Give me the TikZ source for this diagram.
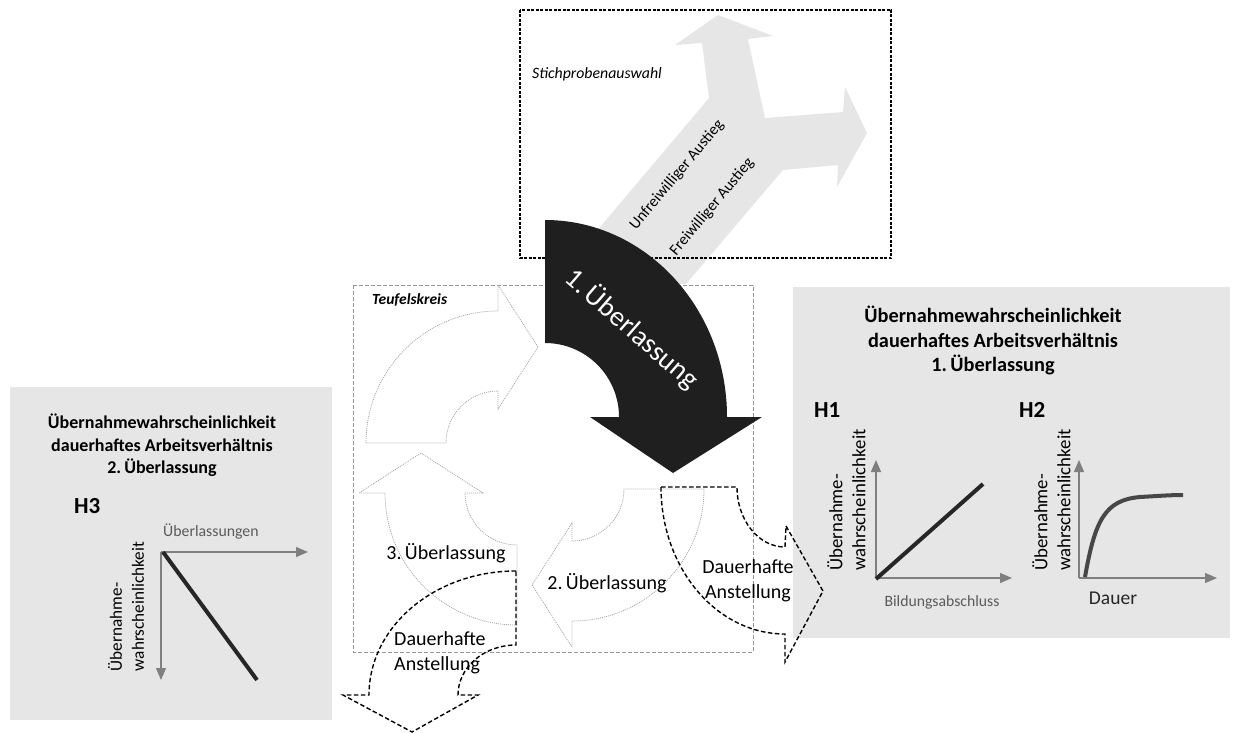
\documentclass[tikz,border=0pt]{standalone}
\usepackage{fontspec}
\setmainfont{Carlito}
\usetikzlibrary{arrows.meta,calc}
\definecolor{boxgray}{HTML}{E6E6E6}
\definecolor{arrowgray}{HTML}{E6E6E6}
\definecolor{blackarrow}{HTML}{1F1F1F}
\definecolor{cycgray}{HTML}{A6A6A6}
\definecolor{framegray}{HTML}{959595}
\definecolor{axisgray}{HTML}{7F7F7F}
\definecolor{labelgray}{HTML}{595959}
\definecolor{hline}{HTML}{262626}
\newcommand\cycarrow[2]{%
  \draw[cyc] ($(#1)+(#2:132)$) arc[start angle=#2, end angle=#2-90, radius=132]
    -- ($(#1)+(#2-90:158)$) -- ($(#1)+(#2-90:96)+(#2-180:40)$) -- ($(#1)+(#2-90:34)$)
    -- ($(#1)+(#2-90:52)$) arc[start angle=#2-90, end angle=#2, radius=52] -- cycle;}
\tikzset{
  graybox/.style={fill=boxgray, draw=none},
  cyc/.style={draw=cycgray, line width=0.8pt, dash pattern=on 1pt off 1pt},
  dasharrow/.style={draw=black, line width=1.4pt, dash pattern=on 4.5pt off 2.5pt},
  axis/.style={draw=axisgray, line width=1.3pt, -{Triangle[length=12pt,width=10pt]}},
  hthick/.style={draw=hline, line width=4pt},
  title/.style 2 args={align=center, inner sep=0, font=\bfseries\fontsize{#1}{#2}\selectfont},
  ylab/.style 2 args={rotate=90, align=left, inner sep=0, font=\fontsize{#1}{#2}\selectfont},
  hlab/.style={anchor=west, inner sep=0, font=\bfseries\fontsize{23}{23}\selectfont},
  cyclab/.style={inner sep=0, font=\fontsize{20}{25}\selectfont},
}
\begin{document}
\begin{tikzpicture}[x=1pt,y=1pt]
\useasboundingbox (0,0) rectangle (1234,-733);
% gray boxes
\fill[graybox] (10,-387) rectangle (332,-720);
\fill[graybox] (793,-287) rectangle (1230,-638);
% gray Y arrow
\fill[arrowgray] (686,-284) -- (552,-284) -- (709,-98) -- (702,-43) -- (675,-45) -- (718,-15)
  -- (773,-36) -- (748,-39) -- (765,-118) -- (843,-112) -- (845,-87) -- (867,-133)
  -- (837,-187) -- (838,-165) -- (783,-170) -- cycle;
\node[rotate=50.2, inner sep=0, font=\fontsize{15.8}{18}\selectfont] (unfrei) at (677,-175) {Unfreiwilliger Austieg};
\node[rotate=50.2, inner sep=0, font=\fontsize{15.8}{18}\selectfont] (frei) at (712,-207) {Freiwilliger Austieg};
% frames
\draw[black, line width=1.3pt, dash pattern=on 3pt off 1.5pt] (520,-10) rectangle (891,-258);
\node[anchor=west, inner sep=0, font=\itshape\fontsize{15.8}{18}\selectfont] (stich) at (532,-74) {Stichprobenauswahl};
\draw[framegray, line width=1pt, dash pattern=on 4pt off 2pt] (353,-285) rectangle (753,-652);
\node[anchor=west, inner sep=0, font=\bfseries\itshape\fontsize{15.5}{18}\selectfont] (teufel) at (372,-300) {Teufelskreis};
% cycle arrows
\coordinate (c1) at (498,-443);
\coordinate (c3) at (517,-493);
\coordinate (c2) at (572,-489);
\cycarrow{c1}{180}
\cycarrow{c3}{270}
\cycarrow{c2}{0}
\node[cyclab] (ue3) at (446,-553) {3.\,Überlassung};
\node[cyclab] (ue2) at (607,-583) {2.\,Überlassung};
% black arrow
\coordinate (cb) at (545,-417);
\fill[blackarrow] (545,-220) -- (545,-343) arc[start angle=90, end angle=0, radius=74]
  -- (590,-417) -- (673,-473) -- (762,-417) -- (727,-417)
  arc[start angle=0, end angle=90, x radius=182, y radius=197] -- cycle;
\node[rotate=-41, inner sep=0, text=white, font=\fontsize{28}{28}\selectfont] (ue1) at (632,-329) {1.\,Überlassung};
% dashed arrows
\draw[dasharrow] (661,-487) arc[start angle=180, end angle=270, x radius=124, y radius=147]
  -- (785,-662) -- (823,-591) -- (786,-526) -- (785,-547)
  arc[start angle=270, end angle=180, x radius=48, y radius=60] -- cycle;
\draw[dasharrow] (516,-571) arc[start angle=90, end angle=180, x radius=147, y radius=124]
  -- (343,-695) -- (412,-732) -- (478,-695) -- (458,-695)
  arc[start angle=180, end angle=90, x radius=58, y radius=50] -- cycle;
\node[cyclab, align=center] (daR) at (748,-580.5) {Dauerhafte\\Anstellung};
\node[cyclab, align=left, anchor=west] (daL) at (394,-652.5) {Dauerhafte\\Anstellung};
% left box content
\node[title={18}{22.5}] (t3) at (162,-445.5) {Übernahmewahrscheinlichkeit\\dauerhaftes Arbeitsverhältnis\\2.\,Überlassung};
\node[hlab] (h3) at (74,-506) {H3};
\coordinate (o3) at (161,-552);
\coordinate (x3) at (308,-552);
\coordinate (y3) at (161,-680);
\draw[axis] (o3) -- (x3);
\draw[axis] (o3) -- (y3);
\coordinate (l3a) at (163,-552);
\coordinate (l3b) at (257,-680);
\draw[hthick] (l3a) -- (l3b);
\node[anchor=west, inner sep=0, text=labelgray, font=\fontsize{15.8}{18}\selectfont] (xl3) at (163,-532) {Überlassungen};
\node[ylab={17.2}{22}] (yl3) at (126,-606.5) {Übernahme-\\wahrscheinlichkeit};
% right box content
\node[title={20.3}{24.5}] (t1) at (993,-340.5) {Übernahmewahrscheinlichkeit\\dauerhaftes Arbeitsverhältnis\\1.\,Überlassung};
\node[hlab] (h1) at (814,-410) {H1};
\node[hlab] (h2) at (1019,-410) {H2};
\coordinate (o1) at (876,-578);
\coordinate (x1) at (1012,-578);
\coordinate (y1) at (876,-460);
\draw[axis] (o1) -- (x1);
\draw[axis] (o1) -- (y1);
\coordinate (l1a) at (876,-579);
\coordinate (l1b) at (983,-484);
\draw[hthick] (l1a) -- (l1b);
\node[inner sep=0, text=labelgray, font=\fontsize{15.7}{18}\selectfont] (xl1) at (942,-602) {Bildungsabschluss};
\node[ylab={18.8}{23}] (yl1) at (846.5,-500) {Übernahme-\\wahrscheinlichkeit};
\coordinate (o2) at (1079,-578);
\coordinate (x2) at (1217,-578);
\coordinate (y2) at (1079,-460);
\draw[axis] (o2) -- (x2);
\draw[axis] (o2) -- (y2);
\draw[draw=hline!85!white, line width=4pt] (1085,-577) .. controls (1095,-520) and (1105,-500) .. (1140,-497)
  .. controls (1158,-496) and (1170,-495) .. (1183,-495);
\node[inner sep=0, text=hline, font=\fontsize{19.5}{22}\selectfont] (xl2) at (1113,-598) {Dauer};
\node[ylab={18.8}{23}] (yl2) at (1051.5,-500) {Übernahme-\\wahrscheinlichkeit};
\end{tikzpicture}
\end{document}
